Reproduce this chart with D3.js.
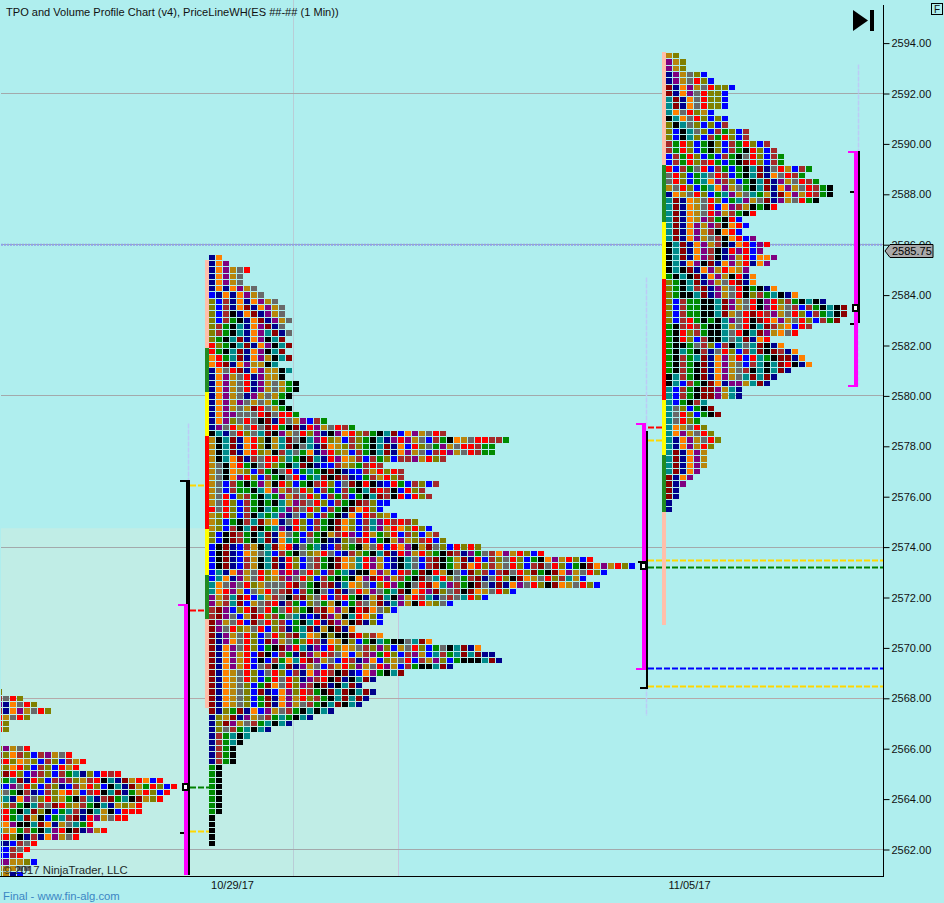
<!DOCTYPE html>
<html><head><meta charset="utf-8">
<script src="https://cdn.jsdelivr.net/npm/d3@7/dist/d3.min.js"></script>
<style>html,body{margin:0;padding:0;background:#afeeee}svg{display:block}</style>
</head><body><div id="c"></div>
<script>
const titleText = "TPO and Volume Profile Chart (v4), PriceLineWH(ES ##-## (1 Min))";
const priceTicks = [2562,2564,2566,2568,2570,2572,2574,2576,2578,2580,2582,2584,2586,2588,2590,2592,2594];
const gridPrices = [2562,2568,2574,2580,2586,2592];
const dateLabels = ["10/29/17","11/05/17"];
const lastPrice = 2585.75;
const letterColors = {n:"#00008b",b:"#0000ff",r:"#ff0000",d:"#8b0000",o:"#ff8000",g:"#b8860b",l:"#808000",p:"#800080",y:"#696969",k:"#000000",t:"#008b8b",e:"#008b00",w:"#a52a2a"};

// TPO rows, top price down, one letter per time period
const topA = 2568.25;
const rowsA = ["l","wyrl","pnoyrl","wnopgyrl","rgyrl","rl","rl","","","lpgyr","wlowlbwpgyr","wrlog lbwlb wgr","glorl bwlbr gr","ldrlb pwlbw etnlb rwr",
"letdn rlbwp wlgwr ktndg robr","nbpyr lbwln bwgrl bktnd gerlb r","gyekw nbwlo rgbwr ktdne grlbr","ltnop ylrlg ekwtn wdetk dglr","olwek twydr lgwek tnglg r",
"wrekt dlkbe twnkt gkbrr r","wretd gkbet wdnrp gyrr","gopkk tdong yter","tgoew ektpr kdnpg r","wrlkn wnopg yr","nnbwyr","bbwyr","bbwr","ppgglb","gggyy","lgnb"];

const topB = 2585.5;
const rowsB = ["no","nop","nopgyr","nopgy","nopgy","nonopgy","bnonopgy","lbwnonopgy","lbwnodnopgy","lbwknodnpgy","lbweknodnpgy","lwektnopdny","lwektnoptdny","lektdnopktd",
"rlektdnopktd","rektdnopktd","oretdnopgktd","ordnopggkt","noyrdnopggkt","nopgyrnpggk","nopgyrnpgygek","nopgyrnpgygek","nopgynpgygek","nopgpygygek","nopgygdrygek","noppyyyrdyrre",
"noply rykdn rygpb we","npyrg yrydr ekdnr pgyrw e","ktnyr lytdk pgyrl pnkpo rlwek tdbop gyrw","gktdn orlkg tdykt prlgb wlekt nprpg ybwek ogyrr wwe",
"gktdn orlkg tdkyt ndogl wlekt dnobr lyepg yrrwe e","gktdn orlgk wtyeo nprlg bwekt dnopg ybwrp gyrwe e","gktod nwyrr ltekd tnrpo gwbwe lbwwp grlw","gykor ekyrl ektdk nbbwg lewrw",
"gykog lbwek yrbet ekdkn bbwgr lrw","gykop rlbwe kyrbe tdkdw nbewg rlw","gybwe kepgk rlbek wrlby dkrkn brebw lbw","gybwe ektop gwyrl bwebw ektdr wkbrl w","gyrbl wekte pgwyr lbwew bektd wkrbr lw",
"gyrlb wekek tgpwy rlbwe kdwlb b","ryrlb wekte tpwyr lbwek dorlb","glrlb wktet pnybl bwekn obrwl gb","glbek wtdgo nyrlb wekdo lbwtp rwrwl","glbwk tdket pnrlb wekdo lbwtp grolr lb",
"lbkdw ektdn oyebw ekgwr pbrge lrbwl bgw","lbkdw ektdn oteby eknnl ywrbe kgpgl wrbl","bkdnb wgktd ornye tnbwl ekgyr bropk gdylb rlrl","bkdnb ogytb wekyl grybn wlekt dnrpg rlekd wnpey wopgr lbr",
"bkdnb wgktd nrlby wekdo gtrpg bnkty bwdke gdnrb w lyrlb ekopg rlbr","bkdnb wgktd nrlby wekdo gtrpg bnkty bwdke gdorl w gyrlb wdyrl bekdo pgrlb",
"btnop gyrlo prpyr lbwet nkkop gbrwe dkrgk ybdlw bwdyr ldekd opgyr lb","btonp gyrlg wpyrl bweke kopdr pgwek dytrl yewdn yrlkd ogyrl wtgb",
"toypy rlgyy yrdye kwdnt ogybl rpeky rdotp wekdy n dnopy rlkdo gyrlb","torpg bygry wdbwe kybdn yrgpy etdko rpdly w kdogy rlb","pgwtd rbtgw ykwdl yrbwr ekngd tkpgr wtnyw ytrlb",
"pgwtd bgywr nwebl yegkb ewygd ntpgk rglyb","wdpbl rdyre yrlek wdopg krdoy lb","wdpyb gdrlw eytnb ndpgk trolb","dpgyr bdyrl wbekt rndpg kdnlb","dpyrl gyrbl wnetd ngkdn o","dnpgy rlbyr lwdto gklkk drlwo",
"dnpoy rlbdp gyelr wnogk lbekt ekkyt do","dnopy rlbek dprtn pbrlo gywlp lbgyr lbeyk tdno","dnopg rbdkb wendp grwyo bgwpe rlbwp gbtwe tdtdn n","dnopg rbkbw eotrd pgybr wnpob lgyrb wgpl bekkk tdn",
"dnopg rbywk tdnpg ybwgr lpgyr pgbwe kktdn","dnogy rlbyr lbwno prwkd nbope ktd","dnogy rlber yrlnp wrkdn ktdn","dnogy lbedo yrlpw kdnkt dn","dnogy lbdnb oplrw ekdtd ktdn","dnogy lbedn opgrl wektd tdn",
"dnogy lbedn opgyw ektdk tn","dnled nobpg ywekt ktn","nlgdn pgywe tektn","nldpg ywetk tn","nlywe tktn","nwetkt","nwetk","nwek","nwek","nwek","ek","ek","ek","ek","ek","ek","ek","ek","k","k","k","k","k"];

const topC = 2593.5;
const rowsC = ["gl","pgl","pgl","npgylb","npgyrlb","dnopgyrllb","dnopyrllb","tdnoyrllb","tdnoyrllb","toyrlgb","ktoyrlblb","lktylblbw","lbktylbwelbw","lbktlbwerlbw","werlbeklbwerlbw","werlbeklbwekrlbw",
"bwerlbebwekyrlbwe","bwerlwrebekdrlbwe","rbweyrbwebektdnyrgbwe","yrlbetyrwbektdnoyrwe","yrlbetopwlbektdnpgyrwe","gyrlbetopgyektdnopgyrwek","nogyrlbetpgytegndopgrwek","tdnogyrlbetpgydnpgyrek",
"tdnogyrbopwgkekr","tdnogyrpgwekr","tdnogpwekrb","tdnopgpwkorb","tdnopgwkorb","tdnopgywkorbp","ktdnopgwknorbpr","ktdnopwknrprbp","ktdnopwknpgrboop","ktnopkdnopgrnop","ktkdnopgrogp","ektkdnopgkrno",
"lektdnpgyrdno","lektwdnpgyrkekno","lekktdnpgyrklwetkno","lbweekktdpgyrkprlwektkn","lbweekktdpgyrkprgywbwektkd","lbweekktdgyrdrwpgyrlbwetkd","lbwrekektpyrkdropgyrlbwed","ekwrwekktgyrktdwgobrw",
"ekrlwekktyrktdpgoyr","ekrlbwkktytdnor","ekkeywlbwktytdkno","ektekwnyrlbwtdkdwno","ekwetdnopgrbrtekddno","ekwekdnopgybwtktdrkno","ekwekdnopgywktktdn","ktwekdnopgytdtdn","ktbwekdonppgtdn","tbwekddpgtn","tbwekddpgtn",
"tbekwt","tylbekd","tyrlbekd","tyrle","togyrl","topgyrl","tnopgyrl","tnopgrl","tdnopg","tdnopg","tdnopg","tdnop","dnop","dnp","dn","dn","n","n"];

// side bars of each profile: colour, top price, bottom price
const barColors = {s:"#ffbfaa",f:"#228b22",h:"#ffff00",x:"#ff0000"};
const sideB = [["s",2585.4,2581.9],["f",2581.9,2580.15],["h",2580.15,2578.4],["x",2578.4,2574.7],["h",2574.7,2572.9],["f",2572.9,2571.15],["s",2571.15,2567.6]];
const sideC = [["s",2593.65,2589.15],["f",2589.15,2586.9],["h",2586.9,2584.65],["x",2584.65,2579.85],["h",2579.85,2577.65],["f",2577.65,2575.4],["s",2575.4,2570.9]];

// range bars: slot, colour, top price, bottom price
const rangeBars = [["Lk","#000",2576.63,2561],["Lm","#ff00ff",2571.7,2561],["Mk","#000",2578.6,2568.4],["Mm","#ff00ff",2578.9,2569.15],["Rk","#000",2589.68,2582.9],["Rm","#ff00ff",2589.68,2580.4]];
const pocPrices = [["L",2564.5],["M",2573.25],["R",2583.5]];
const blackTicks = [["L",2562.7],["R",2588.15],["R",2582.9]];
// dashed levels: group, colour, price
const dashLevels = [["L","#ffd700",2576.45],["L","#ff0000",2571.5],["L","#008000",2564.5],["L","#ffd700",2562.72],["C","#ff0000",2578.75],["C","#ffd700",2578.25],
["M","#ffd700",2573.5],["M","#008000",2573.22],["M","#0000ff",2569.22],["M","#ffd700",2568.48]];
const guideLines = [["L",2578.9,2561],["M",2584.7,2567.3],["R",2593.15,2580.4]];

const W=944,H=903,R=883,B=876;
const y = d3.scaleLinear().domain([2594,2562]).range([43.1,849.5]);
const col = d3.scaleLinear().domain([0,1]).range([0,7]);
const start = d3.scaleOrdinal(["A","B","C"],[-4,209,666]);
const rangeX = d3.scaleOrdinal(["Lk","Lm","Mk","Mm","Rk","Rm"],[186,184,646,642,858,854]);
const rangeW = d3.scaleOrdinal(["Lk","Lm","Mk","Mm","Rk","Rm"],[4,4,2,4,2,4]);
const pocX = d3.scaleOrdinal(["L","M","R"],[185.5,643.5,855.5]);
const dashSpan = d3.scaleOrdinal(["L","C","M"],[[190,209],[648,666],[648,R]]);
const guideX = d3.scaleOrdinal(["L","M","R"],[188,646,858]);
const dateX = d3.scaleOrdinal(dateLabels,[232,689]);
const fam = "Liberation Sans, Arial, sans-serif";

const svg = d3.select("#c").append("svg").attr("width",W).attr("height",H).style("font-family",fam);
svg.append("rect").attr("width",W).attr("height",H).attr("fill","#afeeee");
svg.append("defs").append("clipPath").attr("id","plot").append("rect").attr("x",1).attr("y",0).attr("width",R-1).attr("height",B);
const g = svg.append("g").attr("clip-path","url(#plot)");

// session shading
g.append("rect").attr("x",1).attr("y",y(2574.75)).attr("width",397).attr("height",B-y(2574.75)).attr("fill","#c0ede6");
g.append("rect").attr("x",398).attr("y",y(2574.75)).attr("width",1).attr("height",B-y(2574.75)).attr("fill","#c6c6dc");
g.append("rect").attr("x",293).attr("y",0).attr("width",1).attr("height",B).attr("fill","#b9cdd6");

// grid
g.selectAll("line.grid").data(gridPrices).join("line").attr("class","grid")
 .attr("x1",1).attr("x2",R).attr("y1",d=>Math.floor(y(d))+.5).attr("y2",d=>Math.floor(y(d))+.5)
 .attr("stroke",d=>(d===2568)?"#b5a9a9":"#a3a9ab").attr("stroke-width",1);
// last price dotted line
g.append("line").attr("x1",1).attr("x2",R).attr("y1",y(2586)).attr("y2",y(2586))
 .attr("stroke","#8f9fe6").attr("stroke-width",2).attr("stroke-dasharray","2 1");

// light dashed guides
g.selectAll("line.guide").data(guideLines).join("line").attr("class","guide")
 .attr("x1",d=>guideX(d[0])+.5).attr("x2",d=>guideX(d[0])+.5).attr("y1",d=>y(d[1])).attr("y2",d=>y(d[2]))
 .attr("stroke","#bcccf6").attr("stroke-width",1.5).attr("stroke-dasharray","5 1");

// dashed levels
g.selectAll("line.dash").data(dashLevels).join("line").attr("class","dash")
 .attr("x1",d=>dashSpan(d[0])[0]).attr("x2",d=>dashSpan(d[0])[1]).attr("y1",d=>Math.round(y(d[2]))+.5).attr("y2",d=>Math.round(y(d[2]))+.5)
 .attr("stroke",d=>d[1]).attr("stroke-width",2).attr("stroke-dasharray","6 2");

// TPO cells
const cells = [["A",topA,rowsA],["B",topB,rowsB],["C",topC,rowsC]].flatMap(([s,top,rows]) =>
  rows.flatMap((row,i)=>Array.from(row.replace(/ /g,"")).map((c,j)=>({s,price:top-i*.25,j,c}))));
const rowTop = p => Math.round(y(p)-2.7);
g.append("g").attr("shape-rendering","crispEdges").selectAll("rect").data(cells).join("rect")
 .attr("x",d=>start(d.s)+col(d.j))
 .attr("y",d=>rowTop(d.price))
 .attr("width",6).attr("height",d=>rowTop(d.price-.25)-rowTop(d.price)-1)
 .attr("fill",d=>letterColors[d.c]);

// profile side bars
[["B",sideB],["C",sideC]].forEach(([s,segs])=>{
 g.append("g").attr("shape-rendering","crispEdges").selectAll("rect").data(segs).join("rect")
  .attr("x",start(s)-4).attr("width",4)
  .attr("y",d=>y(d[1])).attr("height",d=>y(d[2])-y(d[1]))
  .attr("fill",d=>barColors[d[0]]);
});

// range bars
const rb = g.append("g").attr("shape-rendering","crispEdges");
rb.selectAll("rect.bar").data(rangeBars).join("rect").attr("class","bar")
 .attr("x",d=>rangeX(d[0])).attr("width",d=>rangeW(d[0]))
 .attr("y",d=>y(d[2])).attr("height",d=>y(d[3])-y(d[2])).attr("fill",d=>d[1]);
// caps: top of every bar except the middle black one, bottom of the middle pair and right magenta
rb.selectAll("rect.capT").data(rangeBars.filter(d=>d[0]!=="Mk")).join("rect").attr("class","capT")
 .attr("x",d=>rangeX(d[0])-6).attr("width",d=>rangeW(d[0])+6).attr("y",d=>y(d[2])-1).attr("height",2).attr("fill",d=>d[1]);
rb.selectAll("rect.capB").data(rangeBars.filter(d=>d[3]>2562&&d[0]!=="Rk")).join("rect").attr("class","capB")
 .attr("x",d=>rangeX(d[0])-6).attr("width",d=>rangeW(d[0])+6).attr("y",d=>y(d[3])-1).attr("height",2).attr("fill",d=>d[1]);
rb.selectAll("rect.tick").data(blackTicks).join("rect").attr("class","tick")
 .attr("x",d=>pocX(d[0])-5.5).attr("width",4).attr("y",d=>y(d[1])).attr("height",2).attr("fill","#000");
// point-of-control boxes
rb.selectAll("rect.poc").data(pocPrices).join("rect").attr("class","poc")
 .attr("x",d=>pocX(d[0])-2.5).attr("y",d=>y(d[1])-3).attr("width",5).attr("height",6)
 .attr("fill","#fff").attr("stroke","#000").attr("stroke-width",2);
rb.selectAll("rect.capP").data(pocPrices.filter(d=>d[0]==="M")).join("rect").attr("class","capP")
 .attr("x",d=>pocX(d[0])-5.5).attr("y",d=>y(d[1])-5).attr("width",10).attr("height",2).attr("fill","#000");

// copyright
g.append("text").attr("x",3).attr("y",874).attr("font-size",11.3).attr("fill","#1c2a2a").text("\u00a9 2017 NinjaTrader, LLC");

// frame
svg.append("line").attr("x1",0).attr("x2",R+1).attr("y1",B+.5).attr("y2",B+.5).attr("stroke","#000");

// axes
const yAxis = d3.axisRight(y).tickValues(priceTicks).tickFormat(d3.format(".2f")).tickSize(6).tickPadding(2);
const ya = svg.append("g").attr("transform",`translate(${R+.5},0)`).call(yAxis);
ya.select(".domain").remove();
ya.selectAll("text").attr("font-size",11).attr("font-family",fam).attr("fill","#111");
ya.selectAll("line").attr("stroke","#000");
svg.append("line").attr("x1",R+.5).attr("x2",R+.5).attr("y1",5).attr("y2",B+1).attr("stroke","#000");

const xAxis = d3.axisBottom(dateX).tickSize(0).tickPadding(5);
const xa = svg.append("g").attr("transform",`translate(0,${B})`).call(xAxis);
xa.select(".domain").remove();
xa.selectAll("text").attr("font-size",11).attr("font-family",fam).attr("fill","#111");

// last price flag
const ly = y(lastPrice);
svg.append("path").attr("d",`M885,${ly} L890,${ly-6.5} H933 V${ly+6.5} H890 Z`).attr("fill","#a9a9a9").attr("stroke","#000");
svg.append("text").attr("x",892).attr("y",ly+4).attr("font-size",11).attr("fill","#000").text(d3.format(".2f")(lastPrice));

// texts
svg.append("text").attr("x",6).attr("y",16).attr("font-size",11.07).attr("fill","#111").text(titleText);
svg.append("text").attr("x",3).attr("y",900).attr("font-size",11.3).attr("fill","#3b86c4").text("Final - www.fin-alg.com");

// icons
svg.append("path").attr("d","M853,10 L868,20.5 L853,31 Z").attr("fill","#000");
svg.append("rect").attr("x",870).attr("y",10).attr("width",4).attr("height",21).attr("fill","#000");
svg.append("rect").attr("x",931.5).attr("y",3.5).attr("width",11).attr("height",11).attr("fill","none").attr("stroke","#000");
svg.append("text").attr("x",937).attr("y",13).attr("text-anchor","middle").attr("font-size",10).attr("fill","#111").text("F");
</script></body></html>
